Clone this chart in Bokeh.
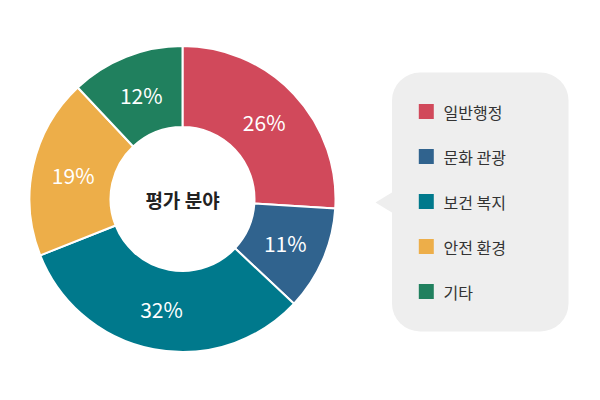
import math
from bokeh.plotting import figure
from bokeh.models import Range1d, ColumnDataSource
from bokeh.core.properties import value
from bokeh.embed import file_html
from bokeh.resources import INLINE

# ---- data ----
categories = ["일반행정", "문화 관광", "보건 복지", "안전 환경", "기타"]
shares = [26, 11, 32, 19, 12]
labels = ["26%", "11%", "32%", "19%", "12%"]
colors = ["#d1495b", "#30638e", "#00798c", "#edae49", "#20805e"]
center_title = "평가 분야"

FONT = "Noto Sans CJK KR"
W, H = 584, 384

p = figure(width=W, height=H, x_range=Range1d(0, 584), y_range=Range1d(16, 400),
           output_backend="svg", toolbar_location=None, min_border=0,
           x_axis_location=None, y_axis_location=None)
p.grid.visible = False
p.outline_line_color = None
p.background_fill_color = "white"
p.border_fill_color = "white"

def Y(sy):
    return 400 - sy

cx, cy = 182.0, Y(198.5)
r_out, r_in = 153.0, 72.0
total = float(sum(shares))

starts, ends, lx, ly = [], [], [], []
cum = 0.0
for s in shares:
    a0 = math.pi / 2 - cum / total * 2 * math.pi
    a1 = math.pi / 2 - (cum + s) / total * 2 * math.pi
    starts.append(a1)
    ends.append(a0)
    mid = (a0 + a1) / 2
    lx.append(cx + 112 * math.cos(mid))
    ly.append(cy + 112 * math.sin(mid))
    cum += s

src = ColumnDataSource(dict(start=starts, end=ends, color=colors, lx=lx, ly=ly,
                            label=labels, cat=categories, share=shares))

p.annular_wedge(x=cx, y=cy, inner_radius=r_in, outer_radius=r_out,
                start_angle="start", end_angle="end", fill_color="color",
                line_color="white", line_width=2, source=src)

p.text(x="lx", y="ly", text="label", source=src, text_align="center",
       text_baseline="middle", text_font=value(FONT), text_font_size="21px",
       text_color="white")

p.text(x=[cx], y=[cy], text=[center_title], text_align="center",
       text_baseline="middle", text_font=value(FONT), text_font_size="19px",
       text_font_style="bold", text_color="#222222")

# legend bubble
box_color = "#eeeeee"
p.patch(x=[375, 393, 393], y=[Y(202), Y(191), Y(213)], fill_color=box_color,
        line_color=None)
p.quad(left=[391.5], right=[568], top=[Y(72)], bottom=[Y(331)],
       fill_color=box_color, line_color=None, border_radius=28)

row_y = [Y(111 + i * 45) for i in range(len(categories))]
leg = ColumnDataSource(dict(y=row_y, color=colors, cat=categories))
p.rect(x=425.8, y="y", width=15, height=15, fill_color="color", line_color=None,
       source=leg)
p.text(x=443, y="y", text="cat", source=leg, text_align="left",
       text_baseline="middle", text_font=value(FONT), text_font_size="16px",
       text_color="#333333")

open("out.html", "w").write(file_html(p, INLINE))
